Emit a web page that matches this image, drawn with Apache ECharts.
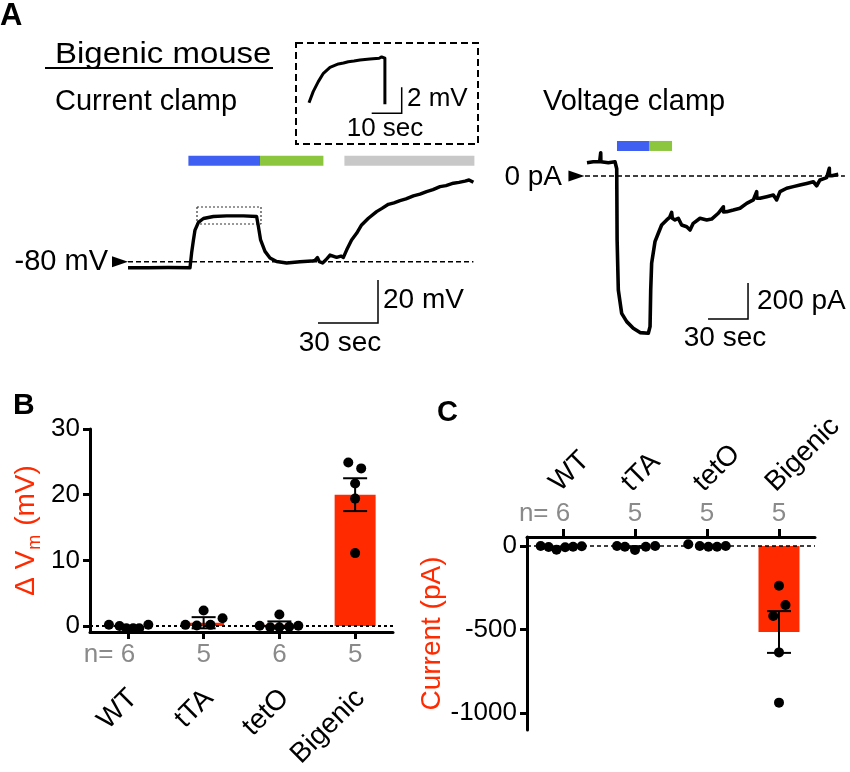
<!DOCTYPE html>
<html><head><meta charset="utf-8">
<script src="https://cdn.jsdelivr.net/npm/echarts@6/dist/echarts.min.js"></script>
<style>html,body{margin:0;padding:0;background:#fff}#c{width:850px;height:772px}</style>
</head><body><div id="c"></div>
<script>
// ---------------- DATA ----------------
// Panel A, current clamp trace (time s, membrane potential mV)
const ccTime = [0, 10, 20, 31, 31.8, 32.7, 33.5, 35.2, 37.7, 42.7, 49.3, 57.7, 64.3, 65.2, 66.3, 68.5, 71, 74.3, 79.3, 86, 91.8, 93.5, 94.7, 95.7, 97.3, 99, 101, 104.3, 106.5, 107.7, 109.3, 111.8, 114.3, 116.8, 120.2, 124.3, 127, 130.2, 133, 136, 139, 142.7, 146, 149.3, 152.5, 156, 159, 162.7, 165.5, 168.5, 170.5, 172.7];
const ccVolt = [-82.8, -82.8, -82.7, -82.8, -76, -70, -65.3, -61.7, -59.9, -59, -58.7, -58.7, -59, -63.6, -69.9, -75.2, -78.3, -79.9, -80.6, -80, -79.7, -79.4, -78.1, -80, -80.6, -79.1, -76.9, -78, -77.4, -78, -74.6, -69.9, -66.8, -62.9, -59.8, -56.7, -55.2, -53.3, -52.6, -51.6, -50.8, -49.4, -48.6, -47.4, -46.5, -45.1, -44.6, -43.5, -43.1, -42.5, -42.0, -43.1];
// inset (zoom on the plateau)
const insetTime = [36, 37.4, 39.1, 40.8, 43, 45.8, 47.5, 49.1, 51, 53, 56.3, 59.4, 60.2, 61.3, 61.3];
const insetVolt = [-62, -61.15, -60.38, -59.74, -59.28, -59.02, -58.95, -58.85, -58.8, -58.72, -58.64, -58.58, -58.48, -58.58, -62.12];
// Panel A, voltage clamp trace (time s, current pA)
const vcTime = [0, 1, 4.7, 9.5, 10.3, 10.3, 10.4, 11, 16, 21, 22.3, 22.6, 23.5, 26, 29.8, 34.7, 39.8, 46, 47.3, 47.8, 48.5, 51, 53.5, 56, 59.8, 62, 63.5, 64, 66, 68.5, 71, 74.8, 77.3, 79.7, 84.8, 89.8, 93.5, 98.5, 102.3, 102.4, 104.8, 109.8, 114.8, 119.8, 124.8, 127.3, 127.4, 129.8, 134.8, 139.8, 142.3, 144.8, 149.8, 154.8, 159.8, 164.8, 169.8, 172.3, 174.8, 179.8, 181.8, 181.9, 183.6, 188.5];
const vcCurr = [74, 74, 79, 79, 79, 129, 79, 79, 74, 79, 40, -356, -633, -763, -809, -846, -870, -874, -837, -633, -485, -365, -318, -272, -244, -230, -202, -235, -244, -235, -272, -282, -300, -263, -235, -244, -239, -207, -171, -200, -198, -189, -179, -152, -133, -87, -124, -124, -115, -106, -133, -87, -68, -59, -50, -41, -32, -54, -22, -9, 43, 2, 2, 9];
// drug application periods (s)
const ccBlue = [30.2, 66], ccGreen = [66, 97.7], ccGray = [108.2, 173.2];
const vcBlue = [22.5, 46.5], vcGreen = [46.5, 63.8];
const restMv = -80, zeroPa = 0;
const ccScale = {t: 30, v: 20}, insetScale = {t: 10, v: 2}, vcScale = {t: 30, i: 200};

// Panels B and C
const groups = ['WT', 'tTA', 'tetO', 'Bigenic'];
const nB = [6, 5, 6, 5];
const nC = [6, 5, 5, 5];
const dvMean = [-0.1, 0.5, 0.2, 20.0];
const dvSem = [0.15, 0.85, 0.5, 2.5];
const dvWT = [0.2, 0, -0.35, -0.35, -0.35, 0.2];
const dvTTA = [0.18, 0.08, 2.36, 0.18, 1.19];
const dvTetO = [0.05, -0.2, 1.75, -0.2, -0.1, 0.05];
const dvBig = [24.9, 24.0, 21.7, 19.4, 11.1];
const dvJit = [[-0.25, -0.11, -0.02, 0.07, 0.15, 0.27], [-0.24, -0.09, 0, 0.09, 0.25], [-0.26, -0.12, 0, 0, 0.13, 0.25], [-0.09, 0.08, 0, 0, 0]];
const curMean = [-6, -6, 0, -515];
const curSem = [3, 5, 3, 125];
const curWT = [0, -6, -22, -8, -5, -2];
const curTTA = [0, -4, -24, -4, 0];
const curTetO = [10, 0, -4, -4, 0];
const curBig = [-238, -353, -419, -637, -938];
const curJit = [[-0.31, -0.2, -0.09, 0.03, 0.14, 0.26], [-0.25, -0.14, 0, 0.15, 0.28], [-0.26, -0.1, 0.02, 0.14, 0.26], [0, 0.09, -0.08, 0, 0]];

// ---------------- CHART ----------------
const RED = '#ff2a00', GRAY = '#8a8a8a', FONT = '"Liberation Sans", Arial, sans-serif';
const zip = (a, b) => a.map((v, i) => [v, b[i]]);
const chart = echarts.init(document.getElementById('c'), null, {renderer: 'canvas'});

function hiddenAxis(gi, min, max) { return {type: 'value', gridIndex: gi, min, max, show: false}; }
function lineS(xi, data, width, color, extra) {
  return Object.assign({type: 'line', xAxisIndex: xi, yAxisIndex: xi, data, showSymbol: false, symbol: 'none', silent: true,
    lineStyle: {width, color, cap: 'butt', join: 'round'}, z: 3, animation: false}, extra || {});
}
function seg(p, y) { return [[p[0], y], [p[1], y]]; }

const ccBarCorner = [125, -108.5];
const insetBarCorner = [66.9, -62.82];
const vcBarCorner = [120.8, -794];
const ccBarY = -33.0, vcBarY = 167;
const insetRect = [[34.5, -54.56], [66.5, -54.56], [66.5, -62.47], [34.5, -62.47], [34.5, -54.56]];

const errItem = (params, api) => {
  const x = api.value(0), m = api.value(1), s = api.value(2);
  const t = api.coord([x, m + s]), b = api.coord([x, m - s]);
  const c = 12, st = {stroke: '#000', lineWidth: 2};
  return {type: 'group', children: [
    {type: 'line', shape: {x1: t[0], y1: t[1], x2: b[0], y2: b[1]}, style: st},
    {type: 'line', shape: {x1: t[0] - c, y1: t[1], x2: t[0] + c, y2: t[1]}, style: st},
    {type: 'line', shape: {x1: b[0] - c, y1: b[1], x2: b[0] + c, y2: b[1]}, style: st}
  ]};
};
function dots(vals, jit) {
  const out = [];
  vals.forEach((arr, g) => arr.forEach((v, k) => out.push([g + jit[g][k], v])));
  return out;
}
const ghost = '{g|n= }';
function nLabel(n, i) { return i === 0 ? '{n|n= }{n|' + n + '}' + ghost : '{n|' + n + '}'; }
const nRich = {n: {color: GRAY, fontSize: 26, fontFamily: FONT}, g: {color: 'rgba(0,0,0,0)', fontSize: 26, fontFamily: FONT}};
const tickVals = [0, 1, 2, 3];
const cShift = 0.12, bShift = 0.07;

const option = {
  animation: false,
  textStyle: {fontFamily: FONT},
  grid: [
    {left: 100, width: 380, top: 140, height: 200, outerBoundsMode: 'none'},   // 0 current clamp
    {left: 296, width: 182, top: 43, height: 101, outerBoundsMode: 'none'},    // 1 inset
    {left: 560, width: 290, top: 130, height: 220, outerBoundsMode: 'none'},   // 2 voltage clamp
    {left: 90, width: 303, top: 429, height: 203, outerBoundsMode: 'none'},    // 3 panel B
    {left: 527, width: 288, top: 537, height: 193, outerBoundsMode: 'none'}    // 4 panel C
  ],
  xAxis: [
    hiddenAxis(0, -14, 176),
    hiddenAxis(1, 31.67, 92.33),
    hiddenAxis(2, -20.25, 197.3),
    {type: 'value', gridIndex: 3, min: -0.5, max: 3.5, position: 'bottom',
      axisLine: {show: true, onZero: false, lineStyle: {color: '#000', width: 3}},
      axisTick: {show: true, customValues: tickVals, length: 7, lineStyle: {color: '#000', width: 3}},
      axisLabel: {customValues: tickVals, margin: 10, formatter: (v) => nLabel(nB[Math.round(v)], Math.round(v)), rich: nRich},
      splitLine: {show: false}},
    {type: 'value', gridIndex: 4, min: -0.5, max: 3.5, position: 'top',
      axisLine: {show: true, onZero: false, lineStyle: {color: '#000', width: 3}},
      axisTick: {show: true, customValues: tickVals, length: 8, lineStyle: {color: '#000', width: 3}},
      axisLabel: {customValues: tickVals, margin: 10, formatter: (v) => nLabel(nC[Math.round(v)], Math.round(v)), rich: nRich},
      splitLine: {show: false}},
    // category-name axes
    {type: 'value', gridIndex: 3, min: -0.5, max: 3.5, position: 'bottom', offset: 54,
      axisLine: {show: false}, axisTick: {show: false}, splitLine: {show: false},
      axisLabel: {customValues: tickVals.map(v => v + bShift), rotate: 45, margin: 8, color: '#000', fontSize: 28,
        formatter: (v) => groups[Math.round(v - bShift)]}},
    {type: 'value', gridIndex: 4, min: -0.5, max: 3.5, position: 'top', offset: 44,
      axisLine: {show: false}, axisTick: {show: false}, splitLine: {show: false},
      axisLabel: {customValues: tickVals.map(v => v - cShift), rotate: 45, margin: 6, color: '#000', fontSize: 28,
        formatter: (v) => groups[Math.round(v + cShift)]}}
  ],
  yAxis: [
    hiddenAxis(0, -116.42, -23.40),
    hiddenAxis(1, -65.177, -57.408),
    hiddenAxis(2, -966.7, 255.6),
    {type: 'value', gridIndex: 3, min: -0.91, max: 30,
      axisLine: {show: true, onZero: false, lineStyle: {color: '#000', width: 3}},
      axisTick: {show: true, customValues: [0, 10, 20, 30], length: 7, lineStyle: {color: '#000', width: 3}},
      axisLabel: {customValues: [0, 10, 20, 30], margin: 10, color: '#000', fontSize: 26},
      splitLine: {show: false},
      name: '{a|Δ V}{s|m}{a| (mV)}', nameLocation: 'middle', nameGap: 46,
      nameTextStyle: {rich: {a: {color: RED, fontSize: 28, fontFamily: FONT}, s: {color: RED, fontSize: 18, fontFamily: FONT, padding: [18, 1, 0, 1]}}}},
    {type: 'value', gridIndex: 4, min: -1101.8, max: 53.9,
      axisLine: {show: true, onZero: false, lineStyle: {color: '#000', width: 3}},
      axisTick: {show: true, customValues: [0, -500, -1000], length: 7, lineStyle: {color: '#000', width: 3}},
      axisLabel: {customValues: [0, -500, -1000], margin: 10, color: '#000', fontSize: 26, formatter: (v) => String(v)},
      splitLine: {show: false},
      name: 'Current (pA)', nameLocation: 'middle', nameGap: 74,
      nameTextStyle: {color: RED, fontSize: 28, fontFamily: FONT}}
  ],
  series: [
    // ---- current clamp ----
    lineS(0, seg(ccBlue, ccBarY), 10, '#3f5ff2', {lineStyle: {width: 10, color: '#3f5ff2', cap: 'butt'}}),
    lineS(0, seg(ccGreen, ccBarY), 10, '#8cc63f', {lineStyle: {width: 10, color: '#8cc63f', cap: 'butt'}}),
    lineS(0, seg(ccGray, ccBarY), 10, '#c8c8c8', {lineStyle: {width: 10, color: '#c8c8c8', cap: 'butt'}}),
    lineS(0, [[0, restMv], [ccTime[ccTime.length - 1], restMv]], 1.6, '#000', {lineStyle: {width: 1.6, color: '#000', type: [5, 3]}}),
    lineS(0, insetRect, 1, '#333', {lineStyle: {width: 1.2, color: '#333', type: [2, 2]}}),
    lineS(0, zip(ccTime, ccVolt), 3.4, '#000'),
    lineS(0, [[ccBarCorner[0] - ccScale.t, ccBarCorner[1]], ccBarCorner, [ccBarCorner[0], ccBarCorner[1] + ccScale.v]], 1.5, '#000', {lineStyle: {width: 1.5, color: '#000', join: 'miter'}}),
    {type: 'scatter', xAxisIndex: 0, yAxisIndex: 0, data: [[-4, restMv]], symbol: 'triangle', symbolRotate: -90, symbolSize: [11, 16], itemStyle: {color: '#000', opacity: 1}, silent: true, z: 4},
    // ---- inset ----
    lineS(1, zip(insetTime, insetVolt), 3, '#000'),
    lineS(1, [[insetBarCorner[0] - insetScale.t, insetBarCorner[1]], insetBarCorner, [insetBarCorner[0], insetBarCorner[1] + insetScale.v]], 1.5, '#000', {lineStyle: {width: 1.5, color: '#000', join: 'miter'}}),
    // ---- voltage clamp ----
    lineS(2, seg(vcBlue, vcBarY), 10, '#3f5ff2', {lineStyle: {width: 10, color: '#3f5ff2', cap: 'butt'}}),
    lineS(2, seg(vcGreen, vcBarY), 10, '#8cc63f', {lineStyle: {width: 10, color: '#8cc63f', cap: 'butt'}}),
    lineS(2, [[-1.5, zeroPa], [193.5, zeroPa]], 1.6, '#000', {lineStyle: {width: 1.6, color: '#000', type: [5, 3]}}),
    lineS(2, zip(vcTime, vcCurr), 3.6, '#000'),
    lineS(2, [[vcBarCorner[0] - vcScale.t, vcBarCorner[1]], vcBarCorner, [vcBarCorner[0], vcBarCorner[1] + vcScale.i]], 1.5, '#000', {lineStyle: {width: 1.5, color: '#000', join: 'miter'}}),
    {type: 'scatter', xAxisIndex: 2, yAxisIndex: 2, data: [[-7.9, zeroPa]], symbol: 'triangle', symbolRotate: -90, symbolSize: [11, 16], itemStyle: {color: '#000', opacity: 1}, silent: true, z: 4},
    // ---- panel B ----
    {type: 'bar', xAxisIndex: 3, yAxisIndex: 3, data: dvMean.map((m, i) => [i, m]), barWidth: 41, itemStyle: {color: RED}, silent: true, z: 2,
      markLine: {silent: true, symbol: 'none', label: {show: false}, lineStyle: {color: '#000', width: 2, type: [3, 3]}, data: [{yAxis: 0}]}},
    {type: 'custom', xAxisIndex: 3, yAxisIndex: 3, data: dvMean.map((m, i) => [i, m, dvSem[i]]), renderItem: errItem, silent: true, z: 4},
    {type: 'scatter', xAxisIndex: 3, yAxisIndex: 3, data: dots([dvWT, dvTTA, dvTetO, dvBig], dvJit), symbolSize: 10, itemStyle: {color: '#000', opacity: 1}, silent: true, z: 5},
    // ---- panel C ----
    {type: 'bar', xAxisIndex: 4, yAxisIndex: 4, data: curMean.map((m, i) => [i, m]), barWidth: 41, itemStyle: {color: RED}, silent: true, z: 2,
      markLine: {silent: true, symbol: 'none', label: {show: false}, lineStyle: {color: '#000', width: 1.5, type: [4, 3]}, data: [{yAxis: 0}]}},
    {type: 'custom', xAxisIndex: 4, yAxisIndex: 4, data: curMean.map((m, i) => [i, m, curSem[i]]), renderItem: errItem, silent: true, z: 4},
    {type: 'scatter', xAxisIndex: 4, yAxisIndex: 4, data: dots([curWT, curTTA, curTetO, curBig], curJit), symbolSize: 10, itemStyle: {color: '#000', opacity: 1}, silent: true, z: 5}
  ],
  graphic: [
    {type: 'text', x: 0, y: 16, style: {text: 'A', font: 'bold 31px ' + FONT, fill: '#000', textVerticalAlign: 'middle'}},
    {type: 'text', x: 13, y: 406, style: {text: 'B', font: 'bold 30px ' + FONT, fill: '#000', textVerticalAlign: 'middle'}},
    {type: 'text', x: 437, y: 413, style: {text: 'C', font: 'bold 29px ' + FONT, fill: '#000', textVerticalAlign: 'middle'}},
    {type: 'text', x: 55, y: 55, scaleX: 1.1, style: {text: 'Bigenic mouse', font: '30px ' + FONT, fill: '#000', textVerticalAlign: 'middle'}},
    {type: 'line', shape: {x1: 45, y1: 68, x2: 273, y2: 68}, style: {stroke: '#000', lineWidth: 2}},
    {type: 'text', x: 55, y: 102, style: {text: 'Current clamp', font: '29px ' + FONT, fill: '#000', textVerticalAlign: 'middle'}},
    {type: 'rect', shape: {x: 296, y: 43, width: 182, height: 101}, style: {fill: 'none', stroke: '#000', lineWidth: 2, lineDash: [7, 4]}},
    {type: 'text', x: 407, y: 99, style: {text: '2 mV', font: '26px ' + FONT, fill: '#000', textVerticalAlign: 'middle'}},
    {type: 'text', x: 385, y: 129, style: {text: '10 sec', font: '26px ' + FONT, fill: '#000', textAlign: 'center', textVerticalAlign: 'middle'}},
    {type: 'text', x: 108, y: 262, style: {text: '-80 mV', font: '29px ' + FONT, fill: '#000', textAlign: 'right', textVerticalAlign: 'middle'}},
    {type: 'text', x: 383, y: 300, style: {text: '20 mV', font: '28px ' + FONT, fill: '#000', textVerticalAlign: 'middle'}},
    {type: 'text', x: 340, y: 343, style: {text: '30 sec', font: '28px ' + FONT, fill: '#000', textAlign: 'center', textVerticalAlign: 'middle'}},
    {type: 'text', x: 543, y: 102, style: {text: 'Voltage clamp', font: '29px ' + FONT, fill: '#000', textVerticalAlign: 'middle'}},
    {type: 'text', x: 562, y: 177, style: {text: '0 pA', font: '28px ' + FONT, fill: '#000', textAlign: 'right', textVerticalAlign: 'middle'}},
    {type: 'text', x: 757, y: 301, style: {text: '200 pA', font: '28px ' + FONT, fill: '#000', textVerticalAlign: 'middle'}},
    {type: 'text', x: 725, y: 338, style: {text: '30 sec', font: '28px ' + FONT, fill: '#000', textAlign: 'center', textVerticalAlign: 'middle'}}
  ]
};
chart.setOption(option);
</script></body></html>
